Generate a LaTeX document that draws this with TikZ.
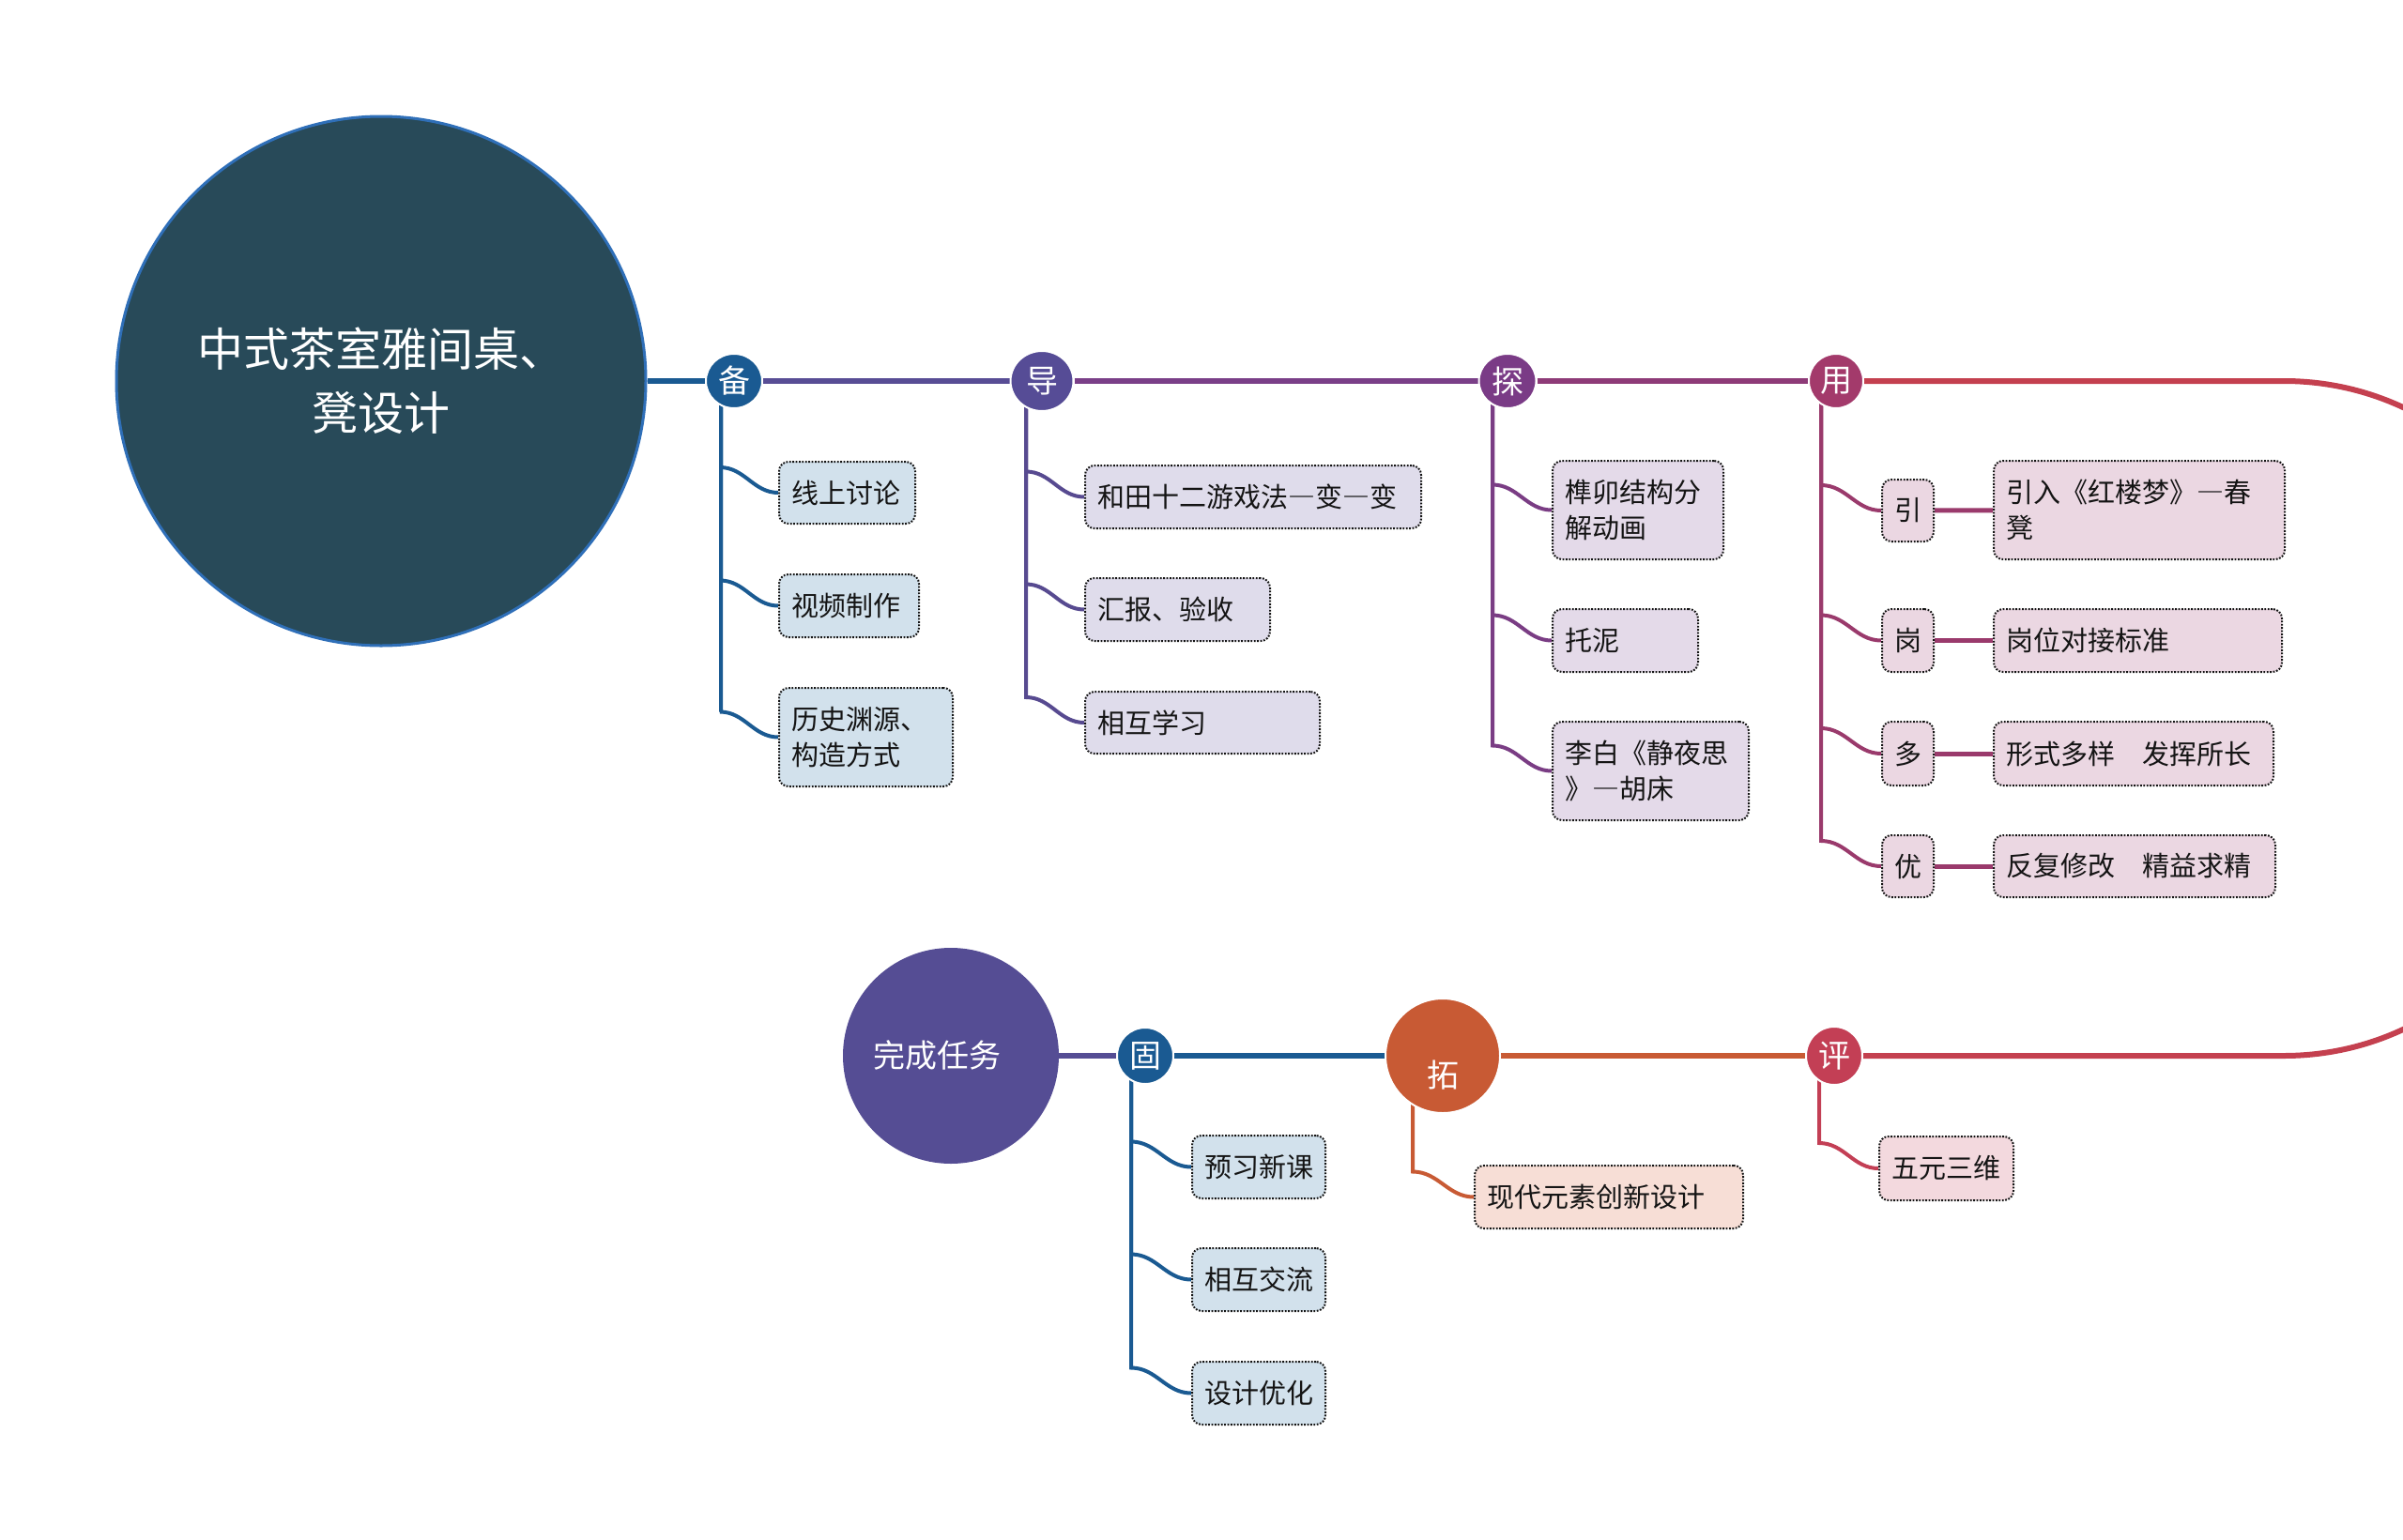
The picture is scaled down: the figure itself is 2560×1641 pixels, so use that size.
\documentclass[tikz,border=0pt]{standalone}
\usepackage{fontspec}
\newfontfamily\cjk{Noto Sans CJK SC}
\usetikzlibrary{shapes.geometric,backgrounds}
\definecolor{cMain}{HTML}{284A59}
\definecolor{cMainB}{HTML}{2F6FB8}
\definecolor{cBei}{HTML}{1A5A92}
\definecolor{cDao}{HTML}{564C96}
\definecolor{cTan}{HTML}{7A3B86}
\definecolor{cYong}{HTML}{A33A6B}
\definecolor{cTuo}{HTML}{C85A34}
\definecolor{cPing}{HTML}{C33F55}
\definecolor{cRed}{HTML}{C4404F}
\definecolor{cDone}{HTML}{554D94}
\definecolor{cBD}{HTML}{584D95}
\definecolor{cDT}{HTML}{7A3F88}
\definecolor{cTY}{HTML}{8E3B78}
\definecolor{brDao}{HTML}{574A90}
\definecolor{brTan}{HTML}{7A3D84}
\definecolor{brYong}{HTML}{9A3A6C}
\definecolor{fBlue}{HTML}{D2E1EC}
\definecolor{fDao}{HTML}{DFDCEB}
\definecolor{fTan}{HTML}{E4DAE9}
\definecolor{fYong}{HTML}{EBD7E2}
\definecolor{fTuo}{HTML}{F7DED6}
\definecolor{fPing}{HTML}{F3D9DE}
\tikzset{
  box/.style={draw=black!92, dash pattern=on 1.8pt off 1.6pt, line width=2pt,
    rounded corners=10pt, inner xsep=13pt, inner ysep=3pt, align=left,
    font=\cjk\fontsize{29}{37.5}\selectfont, text=black!92, anchor=north west},
  sbox/.style={draw=black!92, dash pattern=on 1.8pt off 1.6pt, line width=2pt,
    rounded corners=10pt, inner sep=0pt, minimum width=55pt, fill=fYong,
    font=\cjk\fontsize{29}{37.5}\selectfont, text=black!92, anchor=north west},
  hub/.style={ellipse, inner sep=0pt, draw=white, line width=2pt, text=white,
    font=\cjk\fontsize{34}{40}\selectfont},
  br/.style={line width=4pt},
  spine/.style={line width=6pt}
}
\begin{document}
\begin{tikzpicture}[x=1pt,y=-1pt]
\useasboundingbox (0,0) rectangle (2560,1641);
% central topic
\node[circle, fill=cMain, draw=cMainB, line width=3pt, minimum size=564pt, inner sep=0pt,
  text=white, align=center, font=\cjk\fontsize{49}{68}\selectfont] (main) at (406,406)
  {中式茶室雅间桌、\\凳设计};
% hubs top
\node[hub, fill=cBei, minimum width=60pt, minimum height=58pt] (bei) at (782,406) {备};
\node[hub, fill=cDao, minimum width=67pt, minimum height=64pt] (dao) at (1110,406) {导};
\node[hub, fill=cTan, minimum width=61pt, minimum height=58pt] (tan) at (1606,406) {探};
\node[hub, fill=cYong, minimum width=58pt, minimum height=58pt] (yong) at (1956,406) {用};
% hubs bottom
\node[circle, fill=cDone, inner sep=0pt, minimum size=230pt, text=white,
  font=\cjk\fontsize{34}{40}\selectfont] (done) at (1013,1125) {\hspace*{-30pt}完成任务};
\node[hub, fill=cBei, minimum width=60pt, minimum height=60pt] (gu) at (1220,1125) {固};
\node[hub, circle, fill=cTuo, minimum size=122pt] (tuo) at (1537,1125) {\raisebox{-21pt}[\height][\depth]{拓}};
\node[hub, fill=cPing, minimum width=60pt, minimum height=62pt] (ping) at (1954,1125) {评};
% bei children
\node[box, fill=fBlue, text width=119pt, minimum height=66pt] (b1) at (829,491) {线上讨论};
\node[box, fill=fBlue, text width=123pt, minimum height=67pt] (b2) at (829,611) {视频制作};
\node[box, fill=fBlue, text width=159pt, minimum height=105pt] (b3) at (829,732) {历史渊源、\\构造方式};
% dao children
\node[box, fill=fDao, text width=332pt, minimum height=67pt] (d1) at (1155,495) {\addfontfeature{CharacterWidth=Full}和田十二游戏法—变—变};
\node[box, fill=fDao, text width=171pt, minimum height=67pt] (d2) at (1155,615) {汇报、验收};
\node[box, fill=fDao, text width=224pt, minimum height=66pt] (d3) at (1155,736) {相互学习};
% tan children
\node[box, fill=fTan, text width=156pt, minimum height=105pt] (t1) at (1653,490) {榫卯结构分\\解动画};
\node[box, fill=fTan, text width=129pt, minimum height=67pt] (t2) at (1653,648) {托泥};
\node[box, fill=fTan, text width=183pt, minimum height=105pt] (t3) at (1653,768) {\addfontfeature{CharacterWidth=Full}李白《静夜思\\》—胡床};
% yong children
\node[sbox, minimum height=66pt] (y1) at (2004,510) {引};
\node[sbox, minimum height=67pt] (y2) at (2004,648) {岗};
\node[sbox, minimum height=68pt] (y3) at (2004,768) {多};
\node[sbox, minimum height=66pt] (y4) at (2004,889) {优};
\node[box, fill=fYong, text width=284pt, minimum height=105pt] (y1b) at (2123,490) {\addfontfeature{CharacterWidth=Full}引入《红楼梦》—春\\凳};
\node[box, fill=fYong, text width=281pt, minimum height=67pt] (y2b) at (2123,648) {岗位对接标准};
\node[box, fill=fYong, text width=272pt, minimum height=68pt] (y3b) at (2123,768) {形式多样　发挥所长};
\node[box, fill=fYong, text width=274pt, minimum height=66pt] (y4b) at (2123,889) {反复修改　精益求精};
% gu children
\node[box, fill=fBlue, text width=116pt, minimum height=67pt] (g1) at (1269,1209) {预习新课};
\node[box, fill=fBlue, text width=116pt, minimum height=67pt] (g2) at (1269,1329) {相互交流};
\node[box, fill=fBlue, text width=116pt, minimum height=67pt] (g3) at (1269,1450) {设计优化};
% tuo child
\node[box, fill=fTuo, text width=260pt, minimum height=67pt] (u1) at (1570,1241) {现代元素创新设计};
% ping child
\node[box, fill=fPing, text width=117pt, minimum height=68pt] (p1) at (2001,1210) {五元三维};
% curve turning points
\coordinate (r1) at (2433,406);
\coordinate (r2) at (2433,1125);
\begin{pgfonlayer}{background}
  \draw[spine, draw=cBei] (main) -- (bei);
  \draw[spine, draw=cBD] (bei) -- (dao);
  \draw[spine, draw=cDT] (dao) -- (tan);
  \draw[spine, draw=cTY] (tan) -- (yong);
  \begin{scope}
    \clip (0,0) rectangle (2560,1641);
    \draw[spine, draw=cRed] (yong) -- (r1) .. controls (2599,406) and (2733,540) .. (2733,706)
      -- (2733,825) .. controls (2733,991) and (2599,1125) .. (r2) -- (ping);
  \end{scope}
  \draw[spine, draw=cDone] (done) -- (gu);
  \draw[spine, draw=cBei] (gu) -- (tuo);
  \draw[spine, draw=cTuo] (tuo) -- (ping);
  \foreach \n in {b1,b2,b3}
    \draw[br, draw=cBei] ([xshift=-14pt]bei.center) |- ([shift={(-62,-27)}]\n.west) to[out=0,in=180] (\n.west);
  \foreach \n in {d1,d2,d3}
    \draw[br, draw=brDao] ([xshift=-17pt]dao.center) |- ([shift={(-62,-27)}]\n.west) to[out=0,in=180] (\n.west);
  \foreach \n in {t1,t2,t3}
    \draw[br, draw=brTan] ([xshift=-16pt]tan.center) |- ([shift={(-63,-27)}]\n.west) to[out=0,in=180] (\n.west);
  \foreach \n in {y1,y2,y3,y4}
    \draw[br, draw=brYong] ([xshift=-16pt]yong.center) |- ([shift={(-64,-27)}]\n.west) to[out=0,in=180] (\n.west);
  \draw[line width=5pt, draw=brYong] (y1) -- (y1b);
  \draw[line width=5pt, draw=brYong] (y2) -- (y2b);
  \draw[line width=5pt, draw=brYong] (y3) -- (y3b);
  \draw[line width=5pt, draw=brYong] (y4) -- (y4b);
  \foreach \n in {g1,g2,g3}
    \draw[br, draw=cBei] ([xshift=-15pt]gu.center) |- ([shift={(-64,-27)}]\n.west) to[out=0,in=180] (\n.west);
  \draw[br, draw=cTuo] ([xshift=-32pt]tuo.center) |- ([shift={(-65,-27)}]u1.west) to[out=0,in=180] (u1.west);
  \draw[br, draw=cPing] ([xshift=-16pt]ping.center) |- ([shift={(-63,-27)}]p1.west) to[out=0,in=180] (p1.west);
\end{pgfonlayer}
\end{tikzpicture}
\end{document}
